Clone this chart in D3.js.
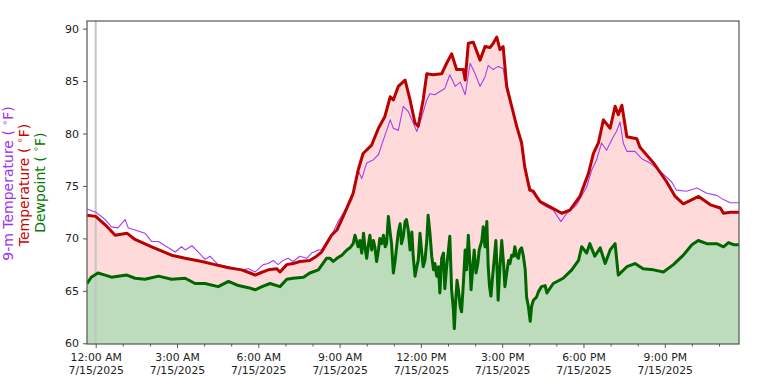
<!DOCTYPE html>
<html>
<head>
<meta charset="utf-8">
<script src="https://cdn.jsdelivr.net/npm/d3@7"></script>
<style>
  html, body { margin: 0; padding: 0; background: #fff; }
  svg { display: block; font-family: "DejaVu Sans", sans-serif; }
</style>
</head>
<body>
<svg id="chart" width="774" height="379"></svg>
<script>
// ---- data (minutes after midnight, 7/15/2025; values in °F) ----
const tempMinutes = [-19,0,21,43,69,87,124,168,198,235,264,294,323,342,353,364,382,401,408,423,437,452,474,489,500,511,522,534,548,559,570,581,592,611,626,640,652,659,670,685,696,707,714,725,733,747,766,777,788,799,814,818,825,836,851,862,873,880,888,895,902,910,921,932,943,950,961,969,976,984,1006,1032,1050,1072,1091,1102,1113,1124,1139,1150,1157,1165,1176,1198,1205,1235,1264,1283,1301,1335,1361,1383,1390,1405,1425];
const tempValues = [72.2,72.1,71.3,70.3,70.5,69.9,69.2,68.4,68.1,67.8,67.5,67.2,67.0,66.7,66.5,66.7,67.0,67.1,66.8,67.5,67.6,67.8,67.9,68.3,68.7,69.5,70.3,70.8,72.1,73.2,74.3,76.5,78.1,78.9,80.5,81.6,83.5,83.2,84.5,85.1,83.2,81.0,80.7,83.2,85.7,85.6,85.7,86.7,87.6,86.1,86.1,85.1,88.6,88.7,87.0,88.3,88.2,88.6,89.2,88.0,88.3,84.5,82.6,80.7,79.1,76.8,74.6,74.5,74.0,73.5,73.0,72.4,72.7,74.0,76.2,78.1,79.1,81.3,80.5,82.6,81.8,82.7,79.7,79.5,78.7,77.2,75.4,74.0,73.3,74.0,73.2,72.9,72.4,72.5,72.5];

const temp9Minutes = [-19,0,21,35,49,65,72,87,109,124,139,161,176,190,198,213,227,242,253,271,294,308,323,338,353,371,382,393,404,415,426,437,452,467,478,493,500,511,522,537,552,567,581,589,600,615,626,637,652,659,670,681,692,700,711,722,733,740,751,762,773,784,796,807,818,829,840,851,862,869,880,891,902,910,921,932,943,947,954,965,984,999,1013,1030,1043,1065,1087,1098,1109,1120,1131,1146,1153,1161,1168,1176,1194,1209,1227,1250,1275,1286,1308,1331,1353,1375,1390,1405,1425];
const temp9Values = [72.8,72.5,71.8,71.1,71.0,71.8,71.0,70.8,70.5,69.7,69.7,69.1,68.7,69.2,68.9,69.3,68.7,68.0,68.3,67.5,67.3,67.1,67.0,67.1,66.8,67.5,67.6,67.9,67.5,67.9,68.1,67.8,68.3,68.1,68.6,68.9,68.9,69.5,70.3,71.6,72.7,73.7,76.5,75.7,77.2,77.5,78.0,79.4,81.3,80.5,80.3,82.6,82.1,81.3,80.2,81.6,83.2,83.8,83.7,84.0,84.3,85.6,84.5,84.9,83.7,86.7,85.7,84.5,85.4,86.5,86.1,86.4,86.2,84.1,82.4,80.6,78.9,77.5,75.9,74.5,73.4,73.0,72.7,71.6,72.4,73.2,74.9,76.5,77.5,79.1,78.4,79.7,80.2,81.1,79.1,78.3,78.3,77.6,77.2,76.4,75.4,74.6,74.5,74.8,74.3,74.1,73.7,73.4,73.4];

const dewMinutes = [-19,-10,5,21,35,49,69,87,109,139,168,198,220,242,271,294,316,338,353,368,386,408,423,437,460,474,493,511,
  519,526,534,545,556,563,570,574,578,581,585,589,593,596,600,604,607,611,615,618,622,626,629,633,637,641,644,648,652,655,659,663,666,670,674,677,681,685,688,692,696,700,703,707,711,714,718,722,725,729,733,736,740,744,748,751,
  755,759,762,766,770,773,777,781,784,788,792,794,797,800,803,807,810,814,818,821,825,829,831,835,838,842,846,849,855,858,862,866,869,872,875,878,882,886,889,891,895,899,903,906,910,914,917,921,925,928,932,936,939,943,947,951,954,958,962,965,969,976,980,987,995,
  999,1013,1035,1054,1069,1076,1087,1094,1105,1117,1128,1139,1150,1157,1176,1194,1212,1235,1257,1279,1301,1320,1334,1353,1375,1390,1401,1412,1425];
const dewValues = [65.7,66.3,66.7,66.5,66.3,66.4,66.5,66.2,66.1,66.4,66.1,66.2,65.7,65.7,65.4,65.9,65.5,65.3,65.1,65.4,65.7,65.4,66.1,66.2,66.3,66.7,67.0,68.1,
  68.1,67.8,68.1,68.4,68.9,69.1,69.5,70.3,69.7,69.2,69.8,68.6,70.5,69.2,68.1,69.5,70.3,68.9,69.8,69.2,67.8,68.9,70.0,69.5,70.3,69.2,69.5,72.1,70.5,69.5,66.7,67.9,69.1,70.6,71.4,69.5,70.2,71.6,71.8,70.8,68.9,70.6,68.3,66.4,67.3,67.9,70.5,68.6,67.3,67.9,69.8,72.2,70.5,68.3,67.0,67.6,
  66.4,67.3,64.8,68.1,68.6,65.2,67.3,68.9,70.2,65.1,63.2,61.4,64.1,66.0,65.1,63.5,63.0,65.7,68.9,67.0,70.3,67.3,65.1,67.3,68.9,66.7,67.6,68.9,69.8,71.1,69.2,71.6,67.3,65.4,64.5,66.0,67.9,69.8,66.7,64.1,67.3,69.8,67.6,65.4,66.7,67.9,67.6,68.4,68.3,69.2,68.3,68.1,68.9,69.1,68.3,67.0,64.4,63.5,62.1,63.5,64.1,64.4,64.9,65.4,65.5,
  64.8,65.7,66.2,67.0,67.9,69.2,68.6,69.5,68.3,69.1,67.6,68.9,69.5,66.5,67.3,67.6,67.1,67.0,66.8,67.5,68.4,69.4,69.8,69.5,69.5,69.2,69.6,69.4,69.4];

const yTicks = [60, 65, 70, 75, 80, 85, 90];
const xTickHours = [0, 3, 6, 9, 12, 15, 18, 21];
const dateLabel = "7/15/2025";
const labels = [
  { text: "9-m Temperature ( ", color: "#a030ee" },
  { text: "Temperature ( ", color: "#cc0000" },
  { text: "Dewpoint ( ", color: "#007a00" }
];

// ---- layout ----
const W = 774, H = 379;
const plot = { left: 87, right: 739, top: 21, bottom: 344 };
const base = new Date(2025, 6, 15, 0, 0, 0);
const toDate = m => new Date(base.getTime() + m * 60000);

const x = d3.scaleTime()
  .domain([toDate(-19.3), toDate(1424.3)])
  .range([plot.left, plot.right]);
const y = d3.scaleLinear()
  .domain([59.93, 90.73])
  .range([plot.bottom, plot.top]);

const svg = d3.select("#chart");

const zip = (ms, vs) => ms.map((m, i) => ({ t: toDate(m), v: vs[i] }));
const temp = zip(tempMinutes, tempValues);
const temp9 = zip(temp9Minutes, temp9Values);
const dew = zip(dewMinutes, dewValues);

svg.append("defs").append("clipPath").attr("id", "clip")
  .append("rect")
  .attr("x", plot.left).attr("y", plot.top)
  .attr("width", plot.right - plot.left).attr("height", plot.bottom - plot.top);

const g = svg.append("g").attr("clip-path", "url(#clip)");

const area = d3.area().x(d => x(d.t)).y0(plot.bottom).y1(d => y(d.v));
const line = d3.line().x(d => x(d.t)).y(d => y(d.v));

g.append("path").datum(temp).attr("d", area).attr("fill", "#ffdada");
g.append("path").datum(dew).attr("d", area).attr("fill", "#bcdcbb");

// vertical marker at midnight
g.append("line")
  .attr("x1", x(toDate(0))).attr("x2", x(toDate(0)))
  .attr("y1", plot.top).attr("y2", plot.bottom)
  .attr("stroke", "#c4c4c4").attr("stroke-width", 2);

g.append("path").datum(temp9).attr("d", line)
  .attr("fill", "none").attr("stroke", "#a63ef0").attr("stroke-width", 1.1)
  .attr("stroke-linejoin", "round");
g.append("path").datum(temp).attr("d", line)
  .attr("fill", "none").attr("stroke", "#bb0000").attr("stroke-width", 3)
  .attr("stroke-linejoin", "round");
g.append("path").datum(dew).attr("d", line)
  .attr("fill", "none").attr("stroke", "#006600").attr("stroke-width", 3)
  .attr("stroke-linejoin", "round");

// frame
svg.append("rect")
  .attr("x", plot.left).attr("y", plot.top)
  .attr("width", plot.right - plot.left).attr("height", plot.bottom - plot.top)
  .attr("fill", "none").attr("stroke", "#555").attr("stroke-width", 1.2);

// y axis
const yAxis = d3.axisLeft(y).tickValues(yTicks).tickSize(4).tickPadding(4).tickFormat(d3.format("d"));
const ya = svg.append("g").attr("transform", `translate(${plot.left},0)`).call(yAxis);
ya.select(".domain").remove();
ya.selectAll(".tick line").attr("stroke", "#555");
ya.selectAll(".tick text").attr("font-size", 11).attr("fill", "#222")
  .attr("font-family", "DejaVu Sans, sans-serif");

// x axis (major ticks every 3 h, minor every hour)
const majorTicks = xTickHours.map(h => toDate(h * 60));
const minorTicks = d3.range(0, 24).filter(h => h % 3 !== 0).map(h => toDate(h * 60));
const xMinor = svg.append("g").attr("transform", `translate(0,${plot.bottom})`)
  .call(d3.axisBottom(x).tickValues(minorTicks).tickSize(2.5).tickFormat(""));
xMinor.select(".domain").remove();
xMinor.selectAll(".tick line").attr("stroke", "#555");

const fmtTime = d3.timeFormat("%-I:%M %p");
const xa = svg.append("g").attr("transform", `translate(0,${plot.bottom})`)
  .call(d3.axisBottom(x).tickValues(majorTicks).tickSize(4).tickFormat(""));
xa.select(".domain").remove();
xa.selectAll(".tick line").attr("stroke", "#555");
xa.selectAll(".tick").each(function(d) {
  const t = d3.select(this).append("text")
    .attr("fill", "#222").attr("font-size", 10.8)
    .attr("font-family", "DejaVu Sans, sans-serif")
    .attr("text-anchor", "middle");
  t.append("tspan").attr("x", 0).attr("y", 17).text(fmtTime(d));
  t.append("tspan").attr("x", 0).attr("y", 29.5).text(dateLabel);
});

// stacked y labels
const labelBaseX = [13, 28.5, 44.5];
const labelCY = [183.5, 185, 182.6];
labels.forEach((l, i) => {
  const t = svg.append("text")
    .attr("transform", `translate(${labelBaseX[i]},${labelCY[i]}) rotate(-90)`)
    .attr("text-anchor", "middle")
    .attr("font-size", 14)
    .attr("fill", l.color)
    .attr("font-family", "DejaVu Sans, sans-serif");
  t.append("tspan").text(l.text);
  t.append("tspan").attr("font-size", 9.5).attr("dy", -5.5).text("∘");
  t.append("tspan").attr("dy", 5.5).text("F)");
});
</script>
</body>
</html>
